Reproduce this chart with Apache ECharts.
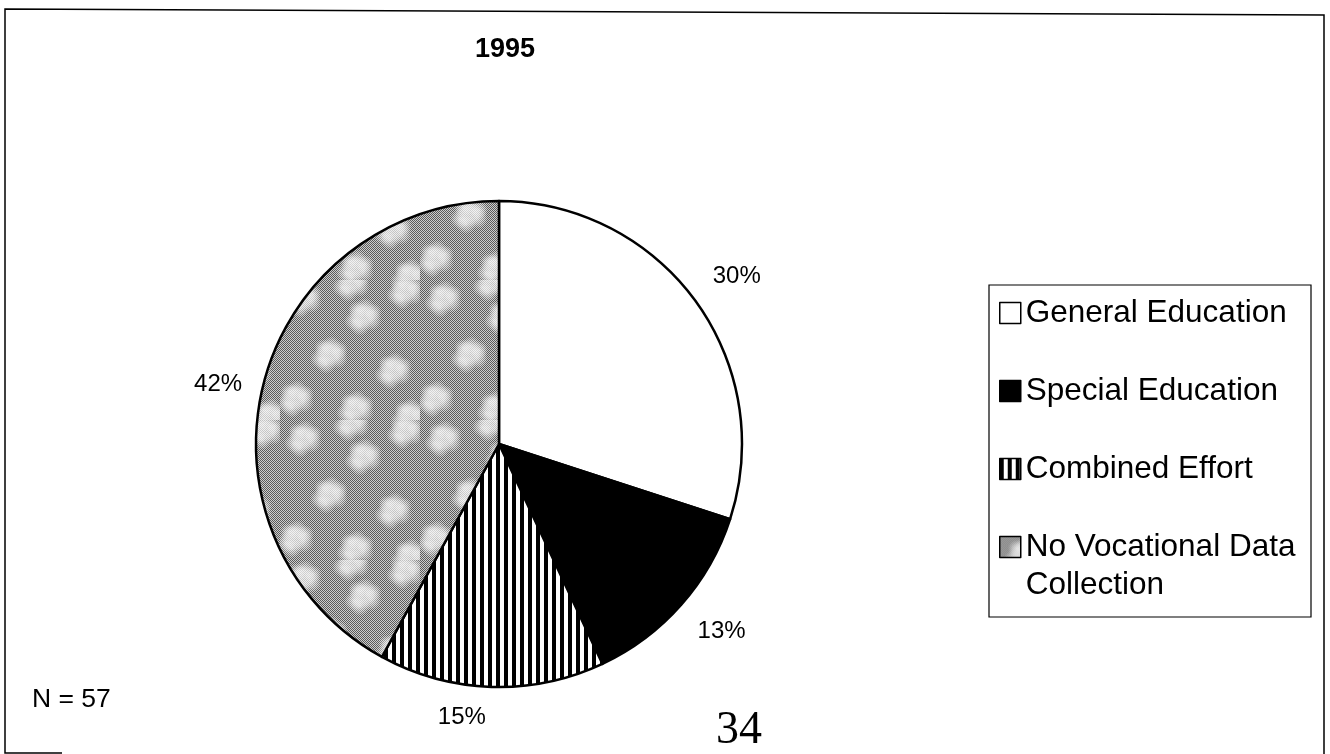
<!DOCTYPE html>
<html>
<head>
<meta charset="utf-8">
<script src="https://cdn.jsdelivr.net/npm/echarts@6/dist/echarts.min.js"></script>
<style>
  html, body { margin: 0; padding: 0; background: #fff; }
  #chart { width: 1330px; height: 754px; }
</style>
</head>
<body>
<div id="chart"></div>
<script>
// data
var categories = ['General Education', 'Special Education', 'Combined Effort', 'No Vocational Data Collection'];
var shares = [30, 13, 15, 42];
var chartTitle = '1995';
var noteText = 'N = 57';
var pageNumber = '34';

// small label nudges so labels sit where the original put them
var labelNudge = [[0, -16], [0, 17], [0, 16], [-2, 5]];

function stripeCanvas() {
    var c = document.createElement('canvas');
    c.width = 8; c.height = 8;
    var g = c.getContext('2d');
    g.fillStyle = '#fff'; g.fillRect(0, 0, 8, 8);
    g.fillStyle = '#000'; g.fillRect(0, 0, 4, 8);
    return c;
}

// grey halftone with soft light patches, like the scanned fill
function mottleCanvas() {
    var s = 140;
    var c = document.createElement('canvas');
    c.width = s; c.height = s;
    var g = c.getContext('2d');
    g.fillStyle = '#cdcdcd'; g.fillRect(0, 0, s, s);
    g.fillStyle = '#5a5a5a';
    for (var y = 0; y < s; y++) {
        for (var x = y % 2; x < s; x += 2) g.fillRect(x, y, 1, 1);
    }
    var patches = [
        [22, 18], [82, 36], [124, 10], [48, 74], [112, 90], [14, 118], [74, 128], [128, 136], [70, 2]
    ];
    var offs = [[0, 0, 9], [9, 4, 7], [-8, 5, 6], [3, -8, 6], [-5, -6, 5], [11, -4, 5], [-2, 10, 6]];
    patches.forEach(function (p) {
        offs.forEach(function (o) {
            var cx = p[0] + o[0], cy = p[1] + o[1], r = o[2] + 4;
            var gr = g.createRadialGradient(cx, cy, 0, cx, cy, r);
            gr.addColorStop(0, 'rgba(255,255,255,0.6)');
            gr.addColorStop(0.5, 'rgba(255,255,255,0.35)');
            gr.addColorStop(1, 'rgba(255,255,255,0)');
            g.fillStyle = gr;
            g.beginPath(); g.arc(cx, cy, r, 0, Math.PI * 2); g.fill();
        });
    });
    return c;
}

var fills = [
    '#ffffff',
    '#000000',
    { image: stripeCanvas(), repeat: 'repeat' },
    { image: mottleCanvas(), repeat: 'repeat' }
];

var chart = echarts.init(document.getElementById('chart'));

var pieData = categories.map(function (name, i) {
    return { name: name, value: shares[i], itemStyle: { color: fills[i] } };
});

var legendText = {
    fontFamily: 'Liberation Sans, Arial, sans-serif',
    fontSize: 31.5,
    color: '#000',
    lineHeight: 38
};

var option = {
    animation: false,
    backgroundColor: '#fff',
    title: {
        text: chartTitle,
        left: 500,
        top: 31,
        textAlign: 'center',
        textStyle: { fontFamily: 'Liberation Sans, Arial, sans-serif', fontSize: 27, fontWeight: 'bold', color: '#000' }
    },
    legend: [{
        orient: 'vertical',
        left: 999,
        top: 294,
        padding: 0,
        itemGap: 40,
        itemWidth: 21,
        itemHeight: 21,
        icon: 'rect',
        selectedMode: false,
        itemStyle: { borderColor: '#000', borderWidth: 1.5 },
        textStyle: legendText,
        data: categories.slice(0, 3)
    }, {
        orient: 'vertical',
        left: 999,
        top: 490,
        padding: 0,
        itemWidth: 21,
        itemHeight: 21,
        icon: 'rect',
        selectedMode: false,
        itemStyle: { borderColor: '#000', borderWidth: 1.5 },
        textStyle: legendText,
        // blank first line keeps the icon level with the first text line
        formatter: function () { return ' \nNo Vocational Data\nCollection'; },
        data: categories.slice(3)
    }],
    series: [{
        type: 'pie',
        center: [499, 444],
        radius: 243,
        startAngle: 90,
        clockwise: true,
        data: pieData,
        itemStyle: { borderColor: '#000', borderWidth: 2.5 },
        emphasis: { disabled: true },
        label: {
            show: true,
            position: 'outside',
            formatter: '{c}%',
            fontFamily: 'Liberation Sans, Arial, sans-serif',
            fontSize: 24,
            color: '#000',
            distanceToLabelLine: 5
        },
        labelLine: { show: false, length: 15, length2: 0 },
        labelLayout: function (p) {
            var n = labelNudge[p.dataIndex];
            return { dx: n[0], dy: n[1] };
        }
    }],
    graphic: [
        {
            type: 'polyline',
            shape: { points: [[62, 753], [5, 753], [5, 9], [1324, 15], [1324, 754]] },
            style: { fill: null, stroke: '#000', lineWidth: 1.5 }
        },
        {
            type: 'rect',
            shape: { x: 989, y: 285, width: 322, height: 332 },
            style: { fill: null, stroke: '#000', lineWidth: 1.2 }
        },
        {
            type: 'text',
            left: 32,
            top: 686,
            style: { text: noteText, fontFamily: 'Liberation Sans, Arial, sans-serif', fontSize: 26.5, fill: '#000' }
        },
        {
            type: 'text',
            left: 716,
            top: 708,
            style: { text: pageNumber, fontFamily: 'Liberation Serif, Times New Roman, serif', fontSize: 46, fill: '#000' }
        }
    ]
};

chart.setOption(option);
</script>
</body>
</html>
